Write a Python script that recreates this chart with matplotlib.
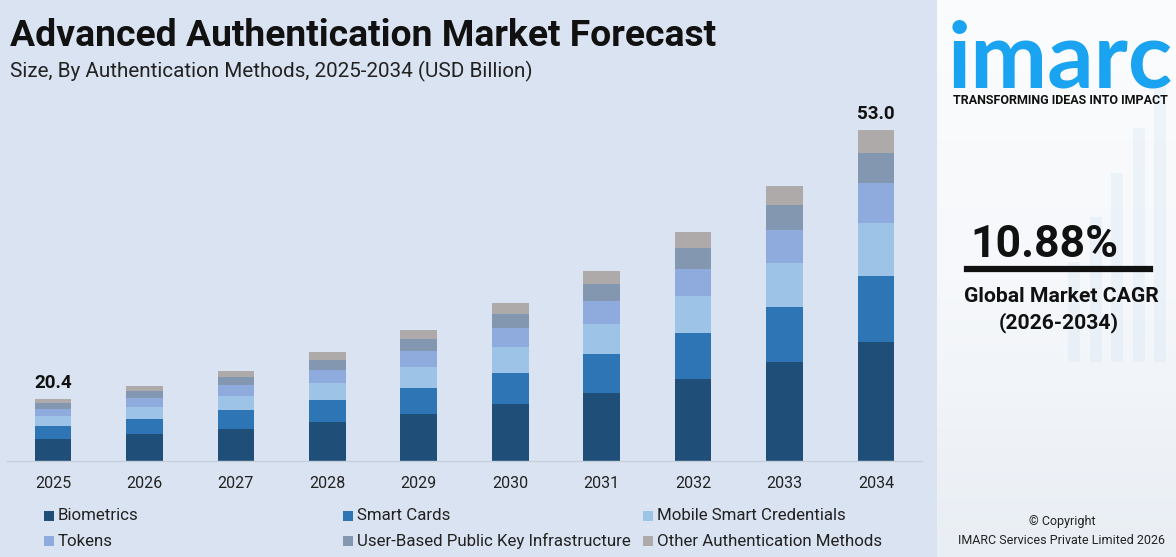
import numpy as np
import matplotlib.pyplot as plt
from matplotlib.patches import Rectangle
from matplotlib.colors import LinearSegmentedColormap

# ---- data (USD Billion) ----
years = ["2025", "2026", "2027", "2028", "2029", "2030", "2031", "2032", "2033", "2034"]
biometrics = [15.55, 16.16, 16.76, 17.61, 18.58, 19.79, 21.13, 22.82, 24.88, 27.34]
smart_cards = [1.58, 1.82, 2.30, 2.67, 3.15, 3.76, 4.73, 5.58, 6.67, 8.00]
mobile_credentials = [1.21, 1.45, 1.70, 2.06, 2.55, 3.15, 3.64, 4.48, 5.33, 6.42]
tokens = [0.85, 1.09, 1.33, 1.58, 1.94, 2.30, 2.79, 3.27, 4.00, 4.85]
user_pki = [0.76, 0.85, 0.97, 1.21, 1.45, 1.70, 2.06, 2.55, 3.03, 3.64]
other_methods = [0.45, 0.61, 0.73, 0.97, 1.09, 1.33, 1.58, 1.94, 2.30, 2.75]

series_names = ["Biometrics", "Smart Cards", "Mobile Smart Credentials",
                "Tokens", "User-Based Public Key Infrastructure", "Other Authentication Methods"]
series_colors = ["#1f4e79", "#2e75b6", "#9dc3e6", "#8faadc", "#8497b0", "#aeaaaa"]
labelled_years = ["2025", "2034"]

cagr_text = "10.88%"
cagr_label = "Global Market CAGR"
cagr_period = "(2026-2034)"

BG = "#dae3f1"
W, H = 1176, 557

fig = plt.figure(figsize=(W / 100, H / 100), dpi=100)
fig.patch.set_facecolor(BG)

# ---- right panel (logo / CAGR) ----
rp = fig.add_axes([937 / W, 0, (W - 937) / W, 1])
grad = np.linspace(0, 1, 256).reshape(-1, 1)
panel_cmap = LinearSegmentedColormap.from_list("panel", ["#e9eef4", "#f6f8fb", "#fbfcfd"])
rp.imshow(grad, aspect="auto", extent=[0, 1, 0, 1], cmap=panel_cmap, origin="lower")
for i, hgt in enumerate([0.18, 0.26, 0.34, 0.42, 0.5]):
    rp.add_patch(Rectangle((0.55 + i * 0.09, 0.35), 0.05, hgt, color="#d6e6f4", alpha=0.35, lw=0))
rp.set_xlim(0, 1)
rp.set_ylim(0, 1)
rp.axis("off")

# ---- main chart ----
ax = fig.add_axes([7 / W, (H - 461) / H, (922 - 7) / W, (461 - 100) / H])
ax.set_facecolor(BG)

x = np.arange(len(years))
series = [biometrics, smart_cards, mobile_credentials, tokens, user_pki, other_methods]
bottom = np.zeros(len(years))
for vals, name, col in zip(series, series_names, series_colors):
    ax.bar(x, vals, width=0.40, bottom=bottom, color=col, label=name, linewidth=0)
    bottom += np.array(vals)

totals = bottom
for i, yr in enumerate(years):
    if yr in labelled_years:
        ax.text(x[i], totals[i] + 0.85, f"{totals[i]:.1f}", ha="center", va="bottom",
                fontsize=13.5, fontweight="bold", color="#111111", family="Roboto")

ax.set_xlim(-0.503, 9.503)
ax.set_ylim(12.92, 56.67)
ax.set_xticks(x)
ax.set_xticklabels(years, fontsize=11.5, color="#222222", family="Roboto")
ax.tick_params(axis="x", length=0, pad=11)
ax.set_yticks([])
for s in ["top", "right", "left"]:
    ax.spines[s].set_visible(False)
ax.spines["bottom"].set_color("#c6cfdc")
ax.spines["bottom"].set_linewidth(1.0)

# ---- titles ----
fig.text(10 / W, 1 - 36 / H, "Advanced Authentication Market Forecast", fontsize=26.8,
         fontweight="bold", color="#111111", family="Roboto", va="center", ha="left")
fig.text(10 / W, 1 - 71 / H, "Size, By Authentication Methods, 2025-2034 (USD Billion)",
         fontsize=14.9, color="#222222", family="Roboto", va="center", ha="left")

# ---- legend (manual grid) ----
col_x = [44, 343, 643]
row_y = [516, 541]
for i, (name, col) in enumerate(zip(series_names, series_colors)):
    cx = col_x[i % 3]
    cy = row_y[i // 3]
    fig.patches.append(Rectangle((cx / W, 1 - (cy + 5) / H), 10 / W, 10 / H,
                                 transform=fig.transFigure, color=col, lw=0))
    fig.text((cx + 14) / W, 1 - cy / H, name, fontsize=12.2, color="#222222",
             family="Roboto", va="center", ha="left")

# ---- logo + CAGR ----
fig.text(1060 / W, 1 - 88 / H, "imarc", fontsize=66, fontweight="bold", color="#1aa3f0",
         family="Lato", ha="center", va="baseline")
fig.text(1060 / W, 1 - 100 / H, "TRANSFORMING IDEAS INTO IMPACT", fontsize=9,
         fontweight="bold", color="#111111", family="Roboto", ha="center", va="center")
fig.text(1044 / W, 1 - 245 / H, cagr_text, fontsize=32, fontweight="bold", color="#111111",
         family="Roboto", ha="center", va="center")
fig.add_artist(plt.Line2D([967 / W, 1150 / W], [1 - 269 / H, 1 - 269 / H], color="#111111",
                          lw=4.5, transform=fig.transFigure))
fig.text(1061 / W, 1 - 296 / H, cagr_label, fontsize=15.2, fontweight="bold", color="#111111",
         family="Roboto", ha="center", va="center")
fig.text(1059 / W, 1 - 323 / H, cagr_period, fontsize=15.2, fontweight="bold", color="#111111",
         family="Roboto", ha="center", va="center")
fig.text(1062 / W, 1 - 522 / H, "© Copyright", fontsize=9, color="#222222",
         family="Roboto", ha="center", va="center")
fig.text(1062 / W, 1 - 540 / H, "IMARC Services Private Limited 2026", fontsize=9,
         color="#222222", family="Roboto", ha="center", va="center")

fig.savefig("out.png", dpi=100, facecolor=fig.get_facecolor())
